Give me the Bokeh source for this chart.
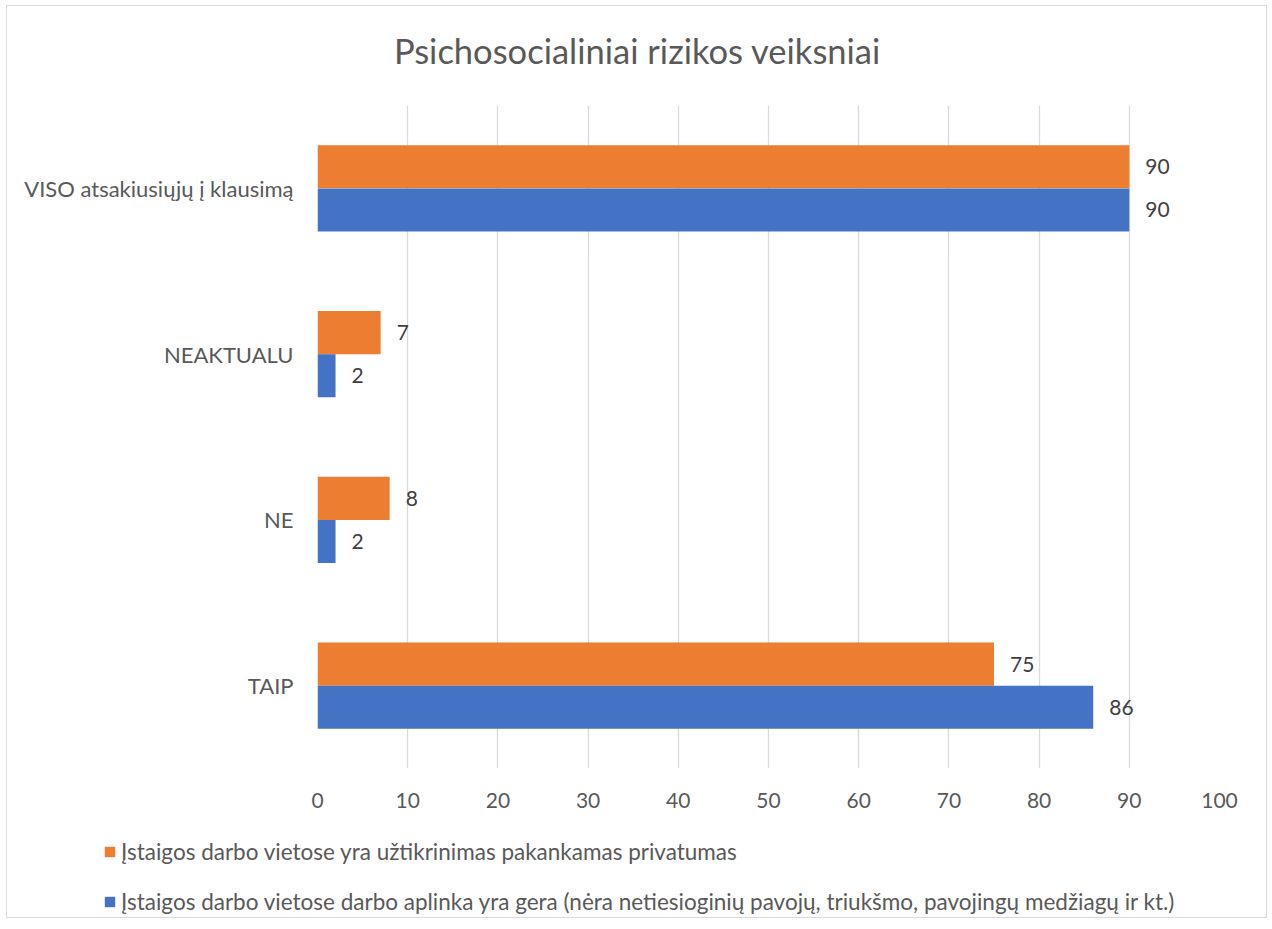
from bokeh.plotting import figure
from bokeh.models import ColumnDataSource, FactorRange, Range1d, FixedTicker, Legend, LegendItem, Label
from bokeh.transform import dodge
from bokeh.core.properties import value
from bokeh.embed import file_html
from bokeh.resources import INLINE

chart_title = "Psichosocialiniai rizikos veiksniai"
categories = ["TAIP", "NE", "NEAKTUALU", "VISO atsakiusiųjų į klausimą"]
privatumas = [75, 8, 7, 90]
aplinka = [86, 2, 2, 90]
series_names = [
    "Įstaigos darbo vietose yra užtikrinimas pakankamas privatumas",
    "Įstaigos darbo vietose darbo aplinka yra gera (nėra netiesioginių pavojų, triukšmo, pavojingų medžiagų ir kt.)",
]
series_colors = ["#ED7D31", "#4472C4"]
x_ticks = [0, 10, 20, 30, 40, 50, 60, 70, 80, 90, 100]

FONT = "Lato"
TXT = "#595959"
BORDER = "1px solid #d9d9d9"
W = 1261


def strip(height):
    f = figure(width=W, height=height, x_range=Range1d(0, 100),
               y_range=FactorRange(factors=categories, range_padding=0),
               output_backend="svg", toolbar_location=None, title=None,
               x_axis_location=None, y_axis_location=None,
               min_border_left=0, min_border_right=0, min_border_top=0, min_border_bottom=0)
    f.outline_line_color = None
    f.xgrid.grid_line_color = None
    f.ygrid.grid_line_color = None
    return f


src = ColumnDataSource(dict(
    cat=categories,
    priv=privatumas,
    apl=aplinka,
    priv_lbl=[str(v) for v in privatumas],
    apl_lbl=[str(v) for v in aplinka],
))

# title strip (separate root so the title can sit exactly where the reference has it)
tf = strip(80)
tf.styles = {"border-top": BORDER, "border-left": BORDER, "border-right": BORDER,
             "margin-left": "6px", "margin-top": "5px"}
tf.add_layout(Label(x=630, y=36, x_units="screen", y_units="screen", text=chart_title,
                    text_align="center", text_baseline="middle", text_font=FONT,
                    text_font_size="34.5px", text_color=TXT))

p = figure(
    width=W, height=743,
    y_range=FactorRange(factors=categories, range_padding=0),
    x_range=Range1d(0, 100),
    output_backend="svg", toolbar_location=None, title=None,
    min_border_left=310, min_border_right=49, min_border_top=20, min_border_bottom=60,
)
p.styles = {"border-left": BORDER, "border-right": BORDER, "margin-left": "6px"}
p.outline_line_color = None
p.background_fill_color = "white"
p.border_fill_color = "white"

r_priv = p.hbar(y=dodge("cat", 0.13, range=p.y_range), right="priv", left=0, height=0.26,
                source=src, color=series_colors[0], line_color=None)
r_apl = p.hbar(y=dodge("cat", -0.13, range=p.y_range), right="apl", left=0, height=0.26,
               source=src, color=series_colors[1], line_color=None)

for col, lbl, dv in (("priv", "priv_lbl", 0.13), ("apl", "apl_lbl", -0.13)):
    p.text(x=col, y=dodge("cat", dv, range=p.y_range), text=lbl, source=src,
           x_offset=16, text_baseline="middle", text_align="left",
           text_font=value(FONT), text_font_size="21px", text_color="#404040")

p.xgrid.grid_line_color = "#d9d9d9"
p.xgrid.grid_line_width = 1.3
p.ygrid.grid_line_color = None
p.xaxis.ticker = FixedTicker(ticks=x_ticks)
p.xaxis.axis_line_color = None
p.xaxis.major_tick_line_color = None
p.xaxis.minor_tick_line_color = None
p.xaxis.major_label_standoff = 18
p.xaxis.major_label_text_font = FONT
p.xaxis.major_label_text_font_size = "21px"
p.xaxis.major_label_text_color = TXT

p.yaxis.axis_line_color = None
p.yaxis.major_tick_line_color = None
p.yaxis.minor_tick_line_color = None
p.yaxis.major_label_standoff = 18
p.yaxis.major_label_text_font = FONT
p.yaxis.major_label_text_font_size = "22px"
p.yaxis.major_label_text_color = TXT

# legend strip below the chart (separate root so its frame spans the full width)
lf = strip(90)
lf.styles = {"border-bottom": BORDER, "border-left": BORDER, "border-right": BORDER,
             "margin-left": "6px"}
lr_priv = lf.hbar(y="cat", right="priv", left=0, height=0.26, source=src,
                  color=series_colors[0], line_color=None, visible=False)
lr_apl = lf.hbar(y="cat", right="apl", left=0, height=0.26, source=src,
                 color=series_colors[1], line_color=None, visible=False)

legend = Legend(items=[LegendItem(label=series_names[0], renderers=[lr_priv]),
                       LegendItem(label=series_names[1], renderers=[lr_apl])],
                location=(96, 3), orientation="vertical")
legend.padding = 0
legend.margin = 0
legend.border_line_color = None
legend.background_fill_alpha = 0
legend.inactive_fill_alpha = 0
legend.glyph_width = 13
legend.glyph_height = 13
legend.label_height = 20
legend.spacing = 23
legend.label_standoff = 5
legend.label_text_font = FONT
legend.label_text_font_size = "22.5px"
legend.label_text_color = TXT
lf.add_layout(legend, "center")

open("out.html", "w").write(file_html([tf, p, lf], INLINE))
